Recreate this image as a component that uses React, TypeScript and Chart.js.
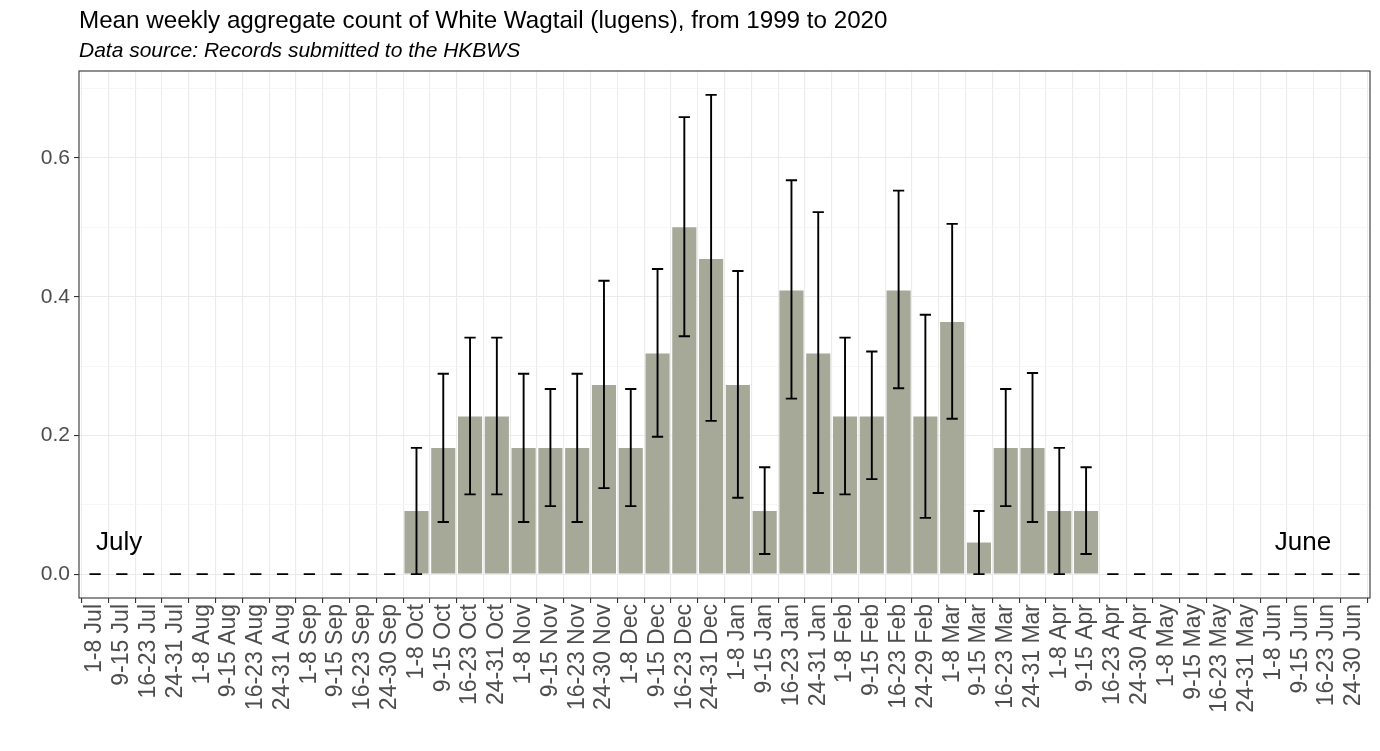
import React, { useEffect, useRef } from "react";
import { Chart, registerables } from "chart.js";

Chart.register(...registerables);

const categories = [
  "1-8 Jul", "9-15 Jul", "16-23 Jul", "24-31 Jul",
  "1-8 Aug", "9-15 Aug", "16-23 Aug", "24-31 Aug",
  "1-8 Sep", "9-15 Sep", "16-23 Sep", "24-30 Sep",
  "1-8 Oct", "9-15 Oct", "16-23 Oct", "24-31 Oct",
  "1-8 Nov", "9-15 Nov", "16-23 Nov", "24-30 Nov",
  "1-8 Dec", "9-15 Dec", "16-23 Dec", "24-31 Dec",
  "1-8 Jan", "9-15 Jan", "16-23 Jan", "24-31 Jan",
  "1-8 Feb", "9-15 Feb", "16-23 Feb", "24-29 Feb",
  "1-8 Mar", "9-15 Mar", "16-23 Mar", "24-31 Mar",
  "1-8 Apr", "9-15 Apr", "16-23 Apr", "24-30 Apr",
  "1-8 May", "9-15 May", "16-23 May", "24-31 May",
  "1-8 Jun", "9-15 Jun", "16-23 Jun", "24-30 Jun",
];

const meanCounts = [
  0, 0, 0, 0,
  0, 0, 0, 0,
  0, 0, 0, 0,
  0.0909, 0.1818, 0.2273, 0.2273,
  0.1818, 0.1818, 0.1818, 0.2727,
  0.1818, 0.3182, 0.5, 0.4545,
  0.2727, 0.0909, 0.4091, 0.3182,
  0.2273, 0.2273, 0.4091, 0.2273,
  0.3636, 0.0455, 0.1818, 0.1818,
  0.0909, 0.0909, 0, 0,
  0, 0, 0, 0,
  0, 0, 0, 0,
];

const lowerCI = [
  0, 0, 0, 0,
  0, 0, 0, 0,
  0, 0, 0, 0,
  0, 0.075, 0.115, 0.115,
  0.075, 0.098, 0.075, 0.124,
  0.098, 0.198, 0.343, 0.221,
  0.11, 0.029, 0.253, 0.117,
  0.115, 0.137, 0.268, 0.081,
  0.224, 0, 0.098, 0.075,
  0, 0.029, 0, 0,
  0, 0, 0, 0,
  0, 0, 0, 0,
];

const upperCI = [
  0, 0, 0, 0,
  0, 0, 0, 0,
  0, 0, 0, 0,
  0.182, 0.289, 0.341, 0.341,
  0.289, 0.267, 0.289, 0.423,
  0.267, 0.44, 0.659, 0.691,
  0.437, 0.154, 0.568, 0.522,
  0.341, 0.321, 0.553, 0.374,
  0.505, 0.091, 0.267, 0.29,
  0.182, 0.154, 0, 0,
  0, 0, 0, 0,
  0, 0, 0, 0,
];

const yGridValues = [0, 0.1, 0.2, 0.3, 0.4, 0.5, 0.6, 0.7];
const yMajorLabels: Record<string, string> = { "0": "0.0", "0.2": "0.2", "0.4": "0.4", "0.6": "0.6" };

const titleText = "Mean weekly aggregate count of White Wagtail (lugens), from 1999 to 2020";
const subtitleText = "Data source: Records submitted to the HKBWS";
const startLabel = "July";
const endLabel = "June";

const FONT = "'Liberation Sans', Arial, Helvetica, sans-serif";

export default function App() {
  const ref = useRef<HTMLCanvasElement>(null);

  useEffect(() => {
    document.body.style.margin = "0";
    const canvas = ref.current;
    if (!canvas) return;

    const isMajor = (v: number) => yMajorLabels[String(Math.round(v * 10) / 10)] !== undefined;

    const errorBars = {
      id: "errorBars",
      afterDatasetsDraw(chart: any) {
        const { ctx, scales } = chart;
        const xs = scales.x;
        const ys = scales.y;
        ctx.save();
        ctx.strokeStyle = "#000000";
        ctx.lineWidth = 1.9;
        ctx.lineCap = "butt";
        for (let i = 0; i < categories.length; i++) {
          const px = xs.getPixelForValue(i);
          const hw = xs.getPixelForValue(i + 0.21) - px;
          const top = ys.getPixelForValue(upperCI[i]);
          const bot = ys.getPixelForValue(lowerCI[i]);
          ctx.beginPath();
          ctx.moveTo(px, top);
          ctx.lineTo(px, bot);
          ctx.moveTo(px - hw, top);
          ctx.lineTo(px + hw, top);
          ctx.moveTo(px - hw, bot);
          ctx.lineTo(px + hw, bot);
          ctx.stroke();
        }
        ctx.restore();
      },
    };

    const frame = {
      id: "frame",
      afterDraw(chart: any) {
        const { ctx, chartArea, scales } = chart;
        ctx.save();
        ctx.strokeStyle = "#333333";
        ctx.lineWidth = 1.1;
        ctx.strokeRect(chartArea.left, chartArea.top, chartArea.right - chartArea.left, chartArea.bottom - chartArea.top);

        ctx.fillStyle = "#000000";
        ctx.textAlign = "left";
        ctx.textBaseline = "alphabetic";
        ctx.font = `24.2px ${FONT}`;
        ctx.fillText(titleText, chartArea.left, 28);
        ctx.font = `italic 21px ${FONT}`;
        ctx.fillText(subtitleText, chartArea.left, 57);

        ctx.font = `26px ${FONT}`;
        ctx.textAlign = "center";
        const ly = scales.y.getPixelForValue(0.0345);
        ctx.fillText(startLabel, scales.x.getPixelForValue(0.9), ly);
        ctx.fillText(endLabel, scales.x.getPixelForValue(45.1), ly);
        ctx.restore();
      },
    };

    const chart = new Chart(canvas, {
      type: "bar",
      data: {
        datasets: [
          {
            data: meanCounts.map((v, i) => ({ x: i, y: v })),
            backgroundColor: "#a6a898",
            borderWidth: 0,
            barPercentage: 0.9,
            categoryPercentage: 1,
          },
        ],
      },
      options: {
        animation: false,
        responsive: false,
        maintainAspectRatio: false,
        layout: { padding: { top: 71, right: 10, left: 0, bottom: 0 } },
        plugins: {
          legend: { display: false },
          tooltip: { enabled: false },
          title: { display: false },
        },
        scales: {
          x: {
            type: "linear",
            min: -0.6,
            max: 47.6,
            offset: false,
            afterBuildTicks: (axis: any) => {
              axis.ticks = categories.map((_, i) => ({ value: i }));
            },
            afterFit: (axis: any) => {
              axis.height = 153;
              axis.paddingLeft = 0;
              axis.paddingRight = 0;
            },
            ticks: {
              autoSkip: false,
              minRotation: 90,
              maxRotation: 90,
              padding: 1,
              color: "#4d4d4d",
              font: { family: FONT, size: 23 },
              callback: (v: any) => categories[Math.round(Number(v))] ?? "",
            },
            grid: {
              color: "#ebebeb",
              lineWidth: 1.1,
              tickLength: 5,
              tickColor: "#333333",
              tickWidth: 1.1,
            },
            border: { display: false },
          },
          y: {
            type: "linear",
            min: -0.0345,
            max: 0.7255,
            afterBuildTicks: (axis: any) => {
              axis.ticks = yGridValues.map((v) => ({ value: v }));
            },
            afterFit: (axis: any) => {
              axis.width = 79;
              axis.paddingTop = 0;
              axis.paddingBottom = 0;
            },
            ticks: {
              padding: 4,
              color: "#4d4d4d",
              font: { family: FONT, size: 21 },
              callback: (v: any) => yMajorLabels[String(Math.round(Number(v) * 10) / 10)] ?? "",
            },
            grid: {
              color: (ctx: any) => (ctx.tick && isMajor(ctx.tick.value) ? "#ebebeb" : "#f4f4f4"),
              lineWidth: (ctx: any) => (ctx.tick && isMajor(ctx.tick.value) ? 1.1 : 0.8),
              tickLength: 5,
              tickColor: (ctx: any) => (ctx.tick && isMajor(ctx.tick.value) ? "#333333" : "rgba(0,0,0,0)"),
              tickWidth: 1.1,
            },
            border: { display: false },
          },
        },
      },
      plugins: [errorBars, frame],
    } as any);

    return () => chart.destroy();
  }, []);

  return (
    <div style={{ width: 1380, height: 751, background: "#ffffff" }}>
      <canvas ref={ref} width={1380} height={751} style={{ display: "block", width: 1380, height: 751 }} />
    </div>
  );
}
